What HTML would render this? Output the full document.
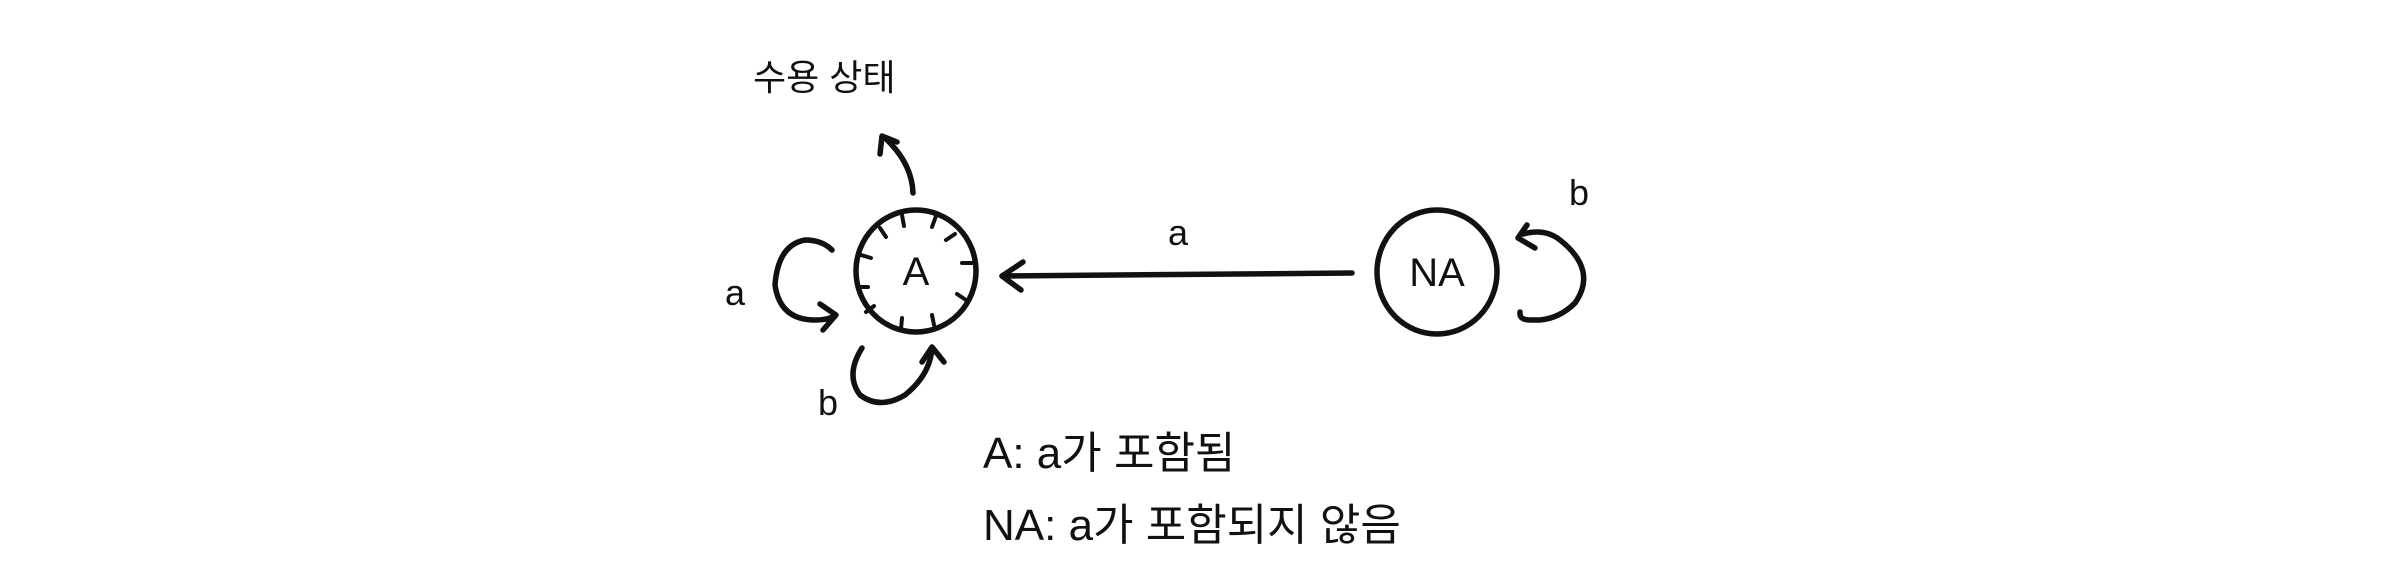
<!DOCTYPE html>
<html><head><meta charset="utf-8"><style>
html,body{margin:0;padding:0;background:#fff;}
svg{display:block;}
text{font-family:"Liberation Sans","Noto Sans CJK KR",sans-serif;fill:#111;}
</style></head><body>
<svg width="2400" height="588" viewBox="0 0 2400 588" xmlns="http://www.w3.org/2000/svg">
<g fill="none" stroke="#111" stroke-width="5.5" stroke-linecap="round" stroke-linejoin="round">
<!-- A circle -->
<ellipse cx="916" cy="271" rx="60" ry="61"/>
<!-- ticks -->
<g stroke-width="4">
<line x1="902" y1="215" x2="904" y2="226"/>
<line x1="936" y1="216" x2="932" y2="227"/>
<line x1="880" y1="228" x2="886" y2="237"/>
<line x1="955" y1="234" x2="946" y2="240"/>
<line x1="861" y1="255" x2="871" y2="258"/>
<line x1="962" y1="263" x2="972" y2="263"/>
<line x1="858" y1="287" x2="868" y2="287"/>
<line x1="957" y1="294" x2="966" y2="300"/>
<line x1="866" y1="312" x2="874" y2="306"/>
<line x1="902" y1="318" x2="901" y2="329"/>
<line x1="932" y1="315" x2="934" y2="325"/>
</g>
<!-- NA circle -->
<ellipse cx="1437" cy="272" rx="60" ry="62"/>
<!-- main arrow -->
<path d="M1352 273 L1002 276"/>
<path d="M1023 262 L1002 276 L1021 290"/>
<!-- accept arrow -->
<path d="M913 193 Q912 163 885 138"/>
<path d="M880 154 L882 136 L897 142"/>
<!-- a loop -->
<path d="M832 250 Q822 240 805 240 Q778 245 775 285 Q780 320 815 320 Q828 320 834 316"/>
<path d="M820 304 L836 315 L823 330"/>
<!-- b loop -->
<path d="M862 348 Q845 375 860 395 Q880 410 905 395 Q930 375 932 348"/>
<path d="M922 362 L932 347 L944 362"/>
<!-- NA loop -->
<path d="M1523 234 Q1545 228 1560 240 Q1598 270 1575 303 Q1560 318 1540 320 L1530 320 Q1519 320 1520 312"/>
<path d="M1527 225 L1518 238 L1535 248"/>
</g>
<text x="753" y="90" font-size="36">수용 상태</text>
<text x="1168" y="245" font-size="36">a</text>
<text x="725" y="305" font-size="36">a</text>
<text x="818" y="415" font-size="36">b</text>
<text x="1569" y="205" font-size="36">b</text>
<text x="916" y="285" font-size="40" text-anchor="middle">A</text>
<text x="1437" y="286" font-size="40" text-anchor="middle">NA</text>
<text x="983" y="468" font-size="44">A: a가 포함됨</text>
<text x="983" y="540" font-size="44">NA: a가 포함되지 않음</text>
</svg>
</body></html>
